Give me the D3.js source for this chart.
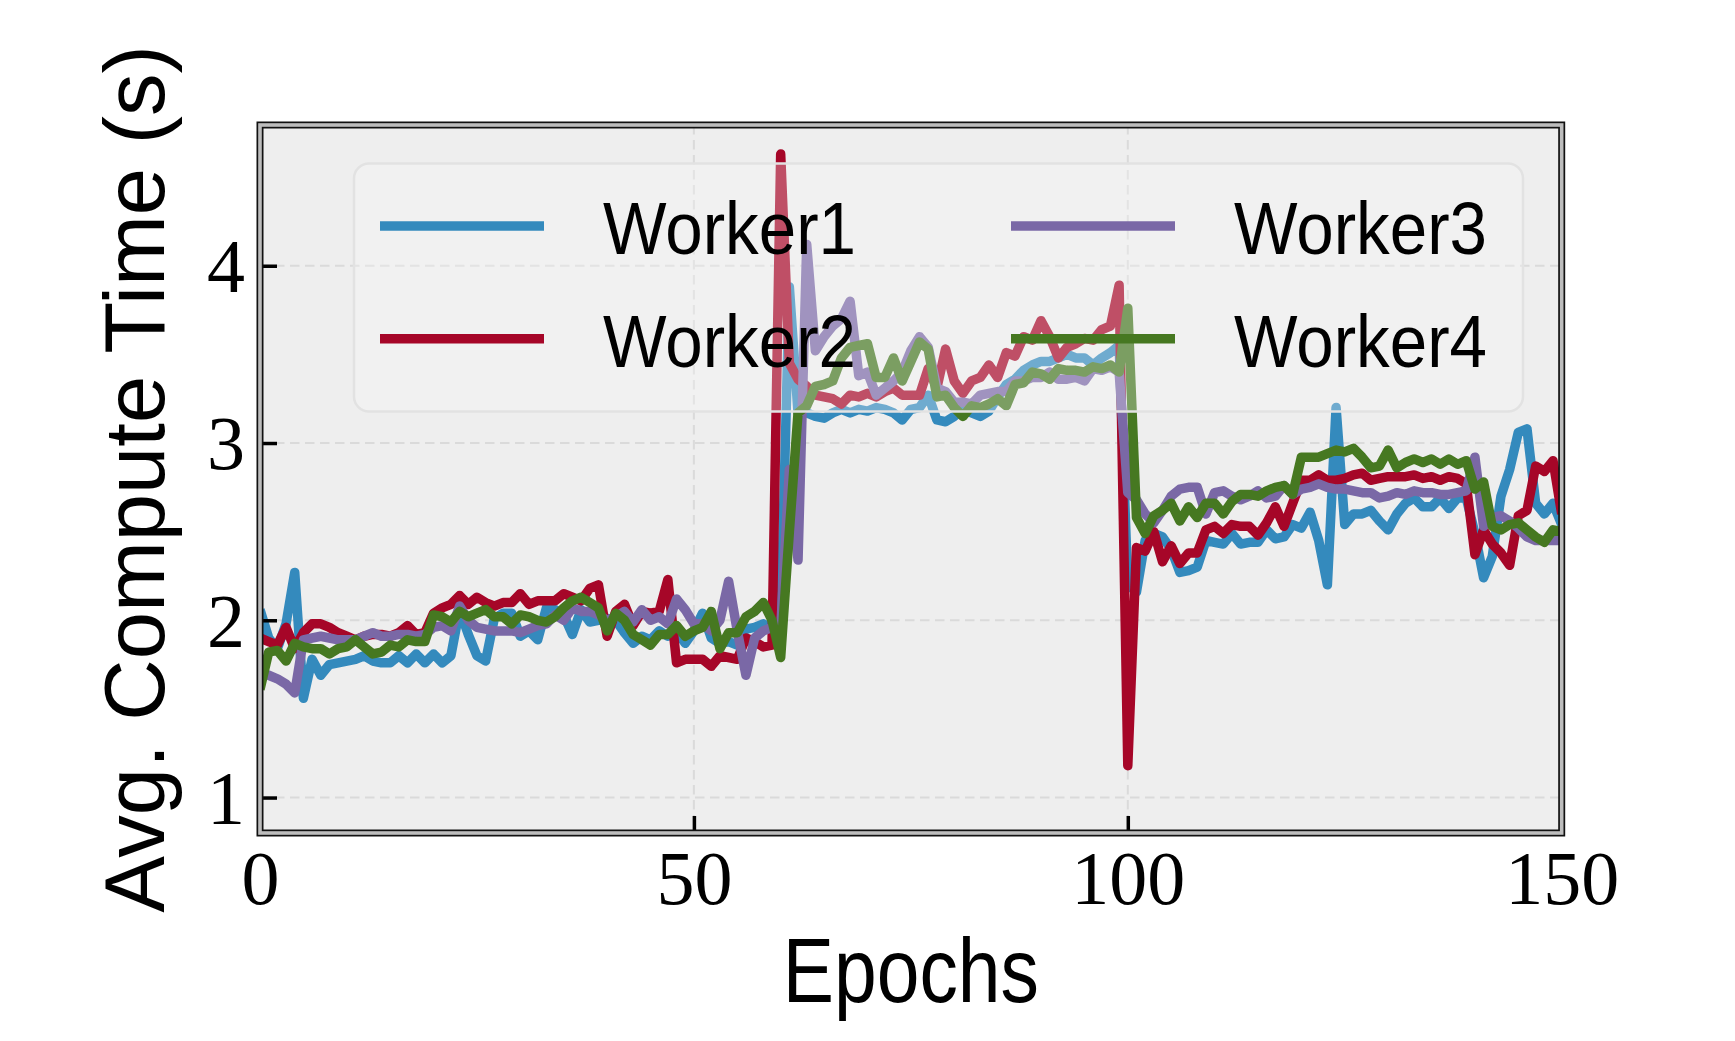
<!DOCTYPE html>
<html>
<head>
	<meta charset="utf-8">
	<title>avg compute time</title>
	<style>
		body{
			margin: 0;
			background: white;
		}
		svg{
			display: block;
		}
		.grid line{
			stroke: #dadada;
			stroke-width: 2;
			stroke-dasharray: 9.5 5.5;
		}
		.tick text{
			font-family: "Liberation Serif", "DejaVu Serif", serif;
			font-size: 76px;
			fill: black;
		}
		.tick line{
			stroke: black;
			stroke-width: 3.5;
		}
		.lbl{
			font-family: "Liberation Sans", Arimo, sans-serif;
			fill: black;
		}
	</style>
	<script src="https://cdn.jsdelivr.net/npm/d3@7"></script>
</head>
<body>
  <svg width="1735" height="1041"></svg>
  <script>
    // epochs 0..150
    var worker1 = [2.06,1.90,1.84,1.98,2.27,1.56,1.78,1.69,1.75,1.76,
      1.77,1.78,1.80,1.77,1.76,1.76,1.80,1.76,1.81,1.76,
      1.81,1.76,1.80,2.06,1.92,1.80,1.77,2.01,2.04,2.04,
      1.91,1.94,1.89,2.07,2.06,2.03,1.92,2.06,1.99,2.00,
      2.01,2.00,1.93,1.87,1.91,1.89,1.94,1.91,1.94,1.87,
      1.94,2.04,1.90,1.87,1.88,1.86,1.95,1.96,1.98,1.95,
      1.98,3.88,3.17,3.17,3.15,3.14,3.17,3.19,3.17,3.19,
      3.18,3.20,3.19,3.17,3.13,3.19,3.20,3.27,3.13,3.12,
      3.15,3.19,3.17,3.15,3.18,3.26,3.33,3.36,3.41,3.44,
      3.46,3.46,3.48,3.50,3.48,3.48,3.44,3.48,3.51,3.55,
      2.20,2.16,2.45,2.49,2.47,2.40,2.27,2.28,2.30,2.45,
      2.44,2.43,2.49,2.43,2.44,2.44,2.51,2.46,2.47,2.54,
      2.52,2.61,2.45,2.20,3.20,2.54,2.60,2.60,2.62,2.56,
      2.51,2.60,2.66,2.69,2.64,2.64,2.69,2.63,2.69,2.69,
      2.49,2.24,2.36,2.70,2.85,3.06,3.08,2.66,2.60,2.66,
      2.54];
    var worker2 = [1.90,1.88,1.86,1.96,1.84,1.93,1.98,1.98,1.96,1.93,
      1.91,1.89,1.91,1.92,1.92,1.91,1.93,1.97,1.92,1.93,
      2.04,2.07,2.09,2.14,2.09,2.13,2.10,2.08,2.10,2.10,
      2.15,2.09,2.11,2.11,2.11,2.15,2.13,2.11,2.18,2.20,
      1.91,2.05,2.09,1.97,2.05,2.04,2.05,2.23,1.76,1.78,
      1.78,1.78,1.74,1.80,1.79,1.78,1.90,1.88,1.85,1.86,
      4.63,3.45,3.36,3.32,3.27,3.26,3.25,3.22,3.27,3.26,
      3.28,3.26,3.29,3.31,3.27,3.27,3.27,3.42,3.31,3.53,
      3.35,3.28,3.35,3.37,3.44,3.37,3.51,3.49,3.60,3.58,
      3.69,3.60,3.48,3.54,3.56,3.59,3.58,3.64,3.66,3.89,
      1.18,2.41,2.39,2.50,2.33,2.42,2.32,2.38,2.38,2.51,
      2.53,2.49,2.54,2.53,2.53,2.48,2.55,2.64,2.53,2.66,
      2.79,2.79,2.82,2.79,2.79,2.80,2.82,2.83,2.79,2.80,
      2.81,2.81,2.81,2.82,2.80,2.81,2.79,2.81,2.80,2.77,
      2.37,2.51,2.43,2.38,2.31,2.59,2.62,2.87,2.84,2.90,
      2.60];
    var worker3 = [1.70,1.69,1.67,1.64,1.59,1.89,1.90,1.91,1.90,1.89,
      1.89,1.89,1.91,1.93,1.91,1.91,1.92,1.92,1.91,1.92,
      1.96,1.97,1.94,2.08,2.00,1.96,1.95,1.94,1.94,1.94,
      1.93,1.95,1.97,1.98,2.03,2.00,2.07,2.05,2.05,2.03,
      2.00,2.02,2.05,1.99,2.06,2.00,2.02,1.98,2.12,2.06,
      1.98,1.98,1.94,2.00,2.22,1.94,1.69,1.90,1.94,1.96,
      1.95,2.85,2.34,4.12,3.52,3.60,3.66,3.70,3.80,3.38,
      3.40,3.27,3.31,3.35,3.40,3.52,3.60,3.54,3.31,3.29,
      3.23,3.23,3.22,3.27,3.28,3.29,3.29,3.35,3.35,3.37,
      3.37,3.40,3.36,3.36,3.37,3.35,3.42,3.41,3.43,3.40,
      2.72,2.68,2.60,2.55,2.62,2.70,2.74,2.75,2.75,2.60,
      2.72,2.73,2.70,2.68,2.70,2.73,2.69,2.70,2.76,2.71,
      2.74,2.75,2.77,2.75,2.74,2.74,2.73,2.72,2.72,2.69,
      2.70,2.72,2.71,2.73,2.72,2.72,2.71,2.71,2.72,2.73,
      2.92,2.53,2.58,2.59,2.56,2.52,2.47,2.45,2.45,2.45,
      2.45];
    var worker4 = [1.61,1.82,1.83,1.77,1.87,1.85,1.84,1.84,1.81,1.84,
      1.85,1.89,1.85,1.81,1.82,1.86,1.85,1.89,1.88,1.88,
      2.03,2.02,1.99,2.05,2.02,2.04,2.06,2.02,2.02,1.98,
      2.03,2.02,2.00,1.99,2.02,2.07,2.11,2.13,2.10,2.07,
      1.94,2.04,2.00,1.92,1.89,1.86,1.92,1.92,1.97,1.91,
      1.94,1.96,2.05,1.84,1.93,1.93,2.02,2.05,2.10,2.00,
      1.79,2.50,3.17,3.21,3.32,3.33,3.35,3.48,3.54,3.55,
      3.56,3.37,3.37,3.48,3.35,3.46,3.57,3.53,3.26,3.27,
      3.20,3.15,3.21,3.20,3.22,3.25,3.21,3.33,3.34,3.40,
      3.39,3.36,3.42,3.41,3.41,3.40,3.43,3.42,3.44,3.40,
      3.76,2.58,2.49,2.59,2.62,2.66,2.56,2.64,2.58,2.66,
      2.66,2.60,2.67,2.71,2.71,2.70,2.73,2.75,2.76,2.71,
      2.92,2.92,2.92,2.94,2.96,2.95,2.97,2.92,2.86,2.87,
      2.96,2.86,2.89,2.91,2.89,2.91,2.88,2.91,2.88,2.90,
      2.74,2.78,2.53,2.51,2.54,2.55,2.51,2.47,2.44,2.51,
      2.50];

    var names = ["Worker1", "Worker2", "Worker3", "Worker4"];
    var colors = ["#348ABD", "#A60628", "#7A68A6", "#467821"];
    var xTicks = [0, 50, 100, 150];
    var yTicks = [1, 2, 3, 4];

    var series = [worker1, worker2, worker3, worker4];

    var svg = d3.select("svg");
    var pLeft = 260, pRight = 1561.7, pTop = 125, pBottom = 833;

    var x = d3.scaleLinear().domain([0, 150]).range([pLeft, pRight]);
    var y = d3.scaleLinear().domain([0.8, 4.794]).range([pBottom, pTop]);

    svg.append("rect")
       .attr("x", pLeft).attr("y", pTop)
       .attr("width", pRight - pLeft).attr("height", pBottom - pTop)
       .attr("fill", "#eeeeee");

    svg.append("clipPath").attr("id", "clip")
       .append("rect")
       .attr("x", pLeft).attr("y", pTop)
       .attr("width", pRight - pLeft).attr("height", pBottom - pTop);

    // grid
    var grid = svg.append("g").attr("class", "grid");
    grid.selectAll(".gy").data(yTicks).enter().append("line")
        .attr("x1", pLeft).attr("x2", pRight)
        .attr("y1", d => y(d)).attr("y2", d => y(d));
    grid.selectAll(".gx").data(xTicks.slice(1, 3)).enter().append("line")
        .attr("y1", pTop).attr("y2", pBottom)
        .attr("x1", d => x(d)).attr("x2", d => x(d));

    // lines
    var line = d3.line()
                 .x((d, i) => x(i))
                 .y(d => y(d));

    svg.append("g").attr("clip-path", "url(#clip)")
       .selectAll("path").data(series).enter().append("path")
       .attr("d", line)
       .attr("fill", "none")
       .attr("stroke", (d, i) => colors[i])
       .attr("stroke-width", 9.5)
       .attr("stroke-linejoin", "round");

    // legend
    var lg = svg.append("g");
    lg.append("rect")
      .attr("x", 354).attr("y", 163.5)
      .attr("width", 1169).attr("height", 248)
      .attr("rx", 15).attr("ry", 15)
      .attr("fill", "#f8f8f8").attr("fill-opacity", 0.3)
      .attr("stroke", "#e2e2e2").attr("stroke-width", 2.5);

    var items = lg.selectAll(".item").data(names).enter().append("g")
      .attr("transform", (d, i) => "translate(" + (Math.floor(i / 2) * 631) + "," + ((i % 2) * 112.7) + ")");
    items.append("line")
      .attr("x1", 380).attr("x2", 544)
      .attr("y1", 226).attr("y2", 226)
      .attr("stroke", (d, i) => colors[i])
      .attr("stroke-width", 9.5);
    items.append("text")
      .attr("class", "lbl")
      .attr("x", 603).attr("y", 254)
      .attr("font-size", 75)
      .attr("textLength", 253)
      .attr("lengthAdjust", "spacingAndGlyphs")
      .text(d => d);

    // axes
    var yAxis = d3.axisLeft(y).tickValues(yTicks).tickSize(-17).tickPadding(15)
                  .tickFormat(d3.format("d"));
    var xAxis = d3.axisBottom(x).tickValues(xTicks).tickSize(-17).tickPadding(17)
                  .tickFormat(d3.format("d"));

    var gy = svg.append("g").attr("transform", "translate(" + pLeft + ",0)").call(yAxis);
    var gx = svg.append("g").attr("transform", "translate(0," + pBottom + ")").call(xAxis);
    gy.select(".domain").remove();
    gx.select(".domain").remove();
    gy.selectAll(".tick text").attr("dy", "0.34em");
    gy.attr("font-family", null).attr("font-size", null);
    gx.attr("font-family", null).attr("font-size", null);

    // frame: black outline with grey core
    svg.append("rect")
       .attr("x", pLeft).attr("y", pTop)
       .attr("width", pRight - pLeft).attr("height", pBottom - pTop)
       .attr("fill", "none").attr("stroke", "#111").attr("stroke-width", 7);
    svg.append("rect")
       .attr("x", pLeft).attr("y", pTop)
       .attr("width", pRight - pLeft).attr("height", pBottom - pTop)
       .attr("fill", "none").attr("stroke", "#bdbdbd").attr("stroke-width", 3.6);

    // labels
    svg.append("text")
       .attr("class", "lbl")
       .attr("x", (pLeft + pRight) / 2).attr("y", 1001.5)
       .attr("text-anchor", "middle")
       .attr("font-size", 91)
       .attr("textLength", 256)
       .attr("lengthAdjust", "spacingAndGlyphs")
       .text("Epochs");

    svg.append("text")
       .attr("class", "lbl")
       .attr("transform", "translate(163.5," + (pTop + pBottom) / 2 + ") rotate(-90)")
       .attr("text-anchor", "middle")
       .attr("font-size", 85)
       .text("Avg. Compute Time (s)");
  </script>
</body>
</html>
